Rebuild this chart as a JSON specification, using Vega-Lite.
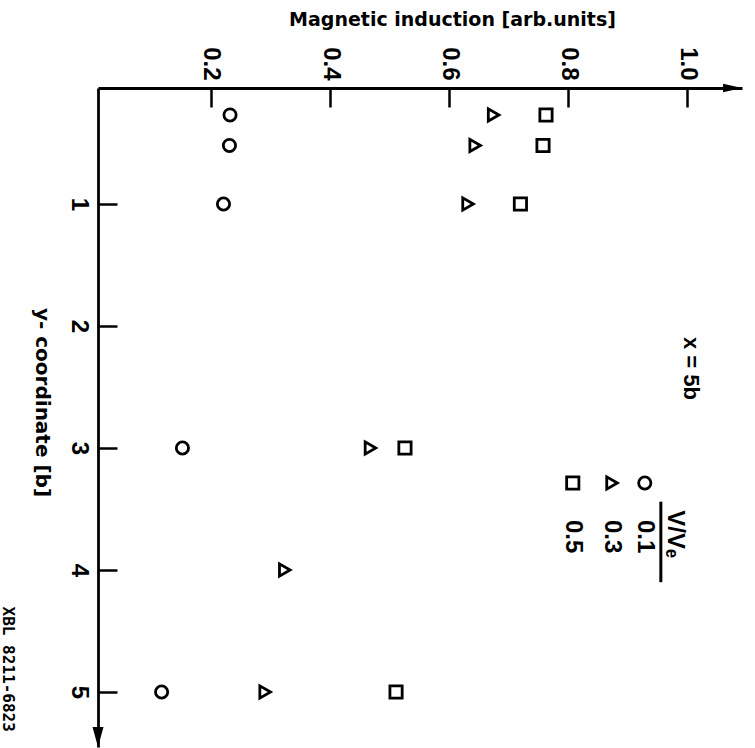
{
  "$schema": "https://vega.github.io/schema/vega-lite/v6.json",
  "width": 644,
  "height": 659,
  "autosize": {"type": "none"},
  "padding": {"left": 98, "top": 88, "right": 13, "bottom": 1},
  "background": "white",
  "config": {"view": {"stroke": null}},
  "layer": [
    {
      "data": {"values": [
        {"ycoord": 0.27, "induction": 0.232, "v": "0.1"},
        {"ycoord": 0.27, "induction": 0.675, "v": "0.3"},
        {"ycoord": 0.27, "induction": 0.763, "v": "0.5"},
        {"ycoord": 0.52, "induction": 0.231, "v": "0.1"},
        {"ycoord": 0.52, "induction": 0.644, "v": "0.3"},
        {"ycoord": 0.52, "induction": 0.758, "v": "0.5"},
        {"ycoord": 1, "induction": 0.221, "v": "0.1"},
        {"ycoord": 1, "induction": 0.632, "v": "0.3"},
        {"ycoord": 1, "induction": 0.72, "v": "0.5"},
        {"ycoord": 3, "induction": 0.152, "v": "0.1"},
        {"ycoord": 3, "induction": 0.468, "v": "0.3"},
        {"ycoord": 3, "induction": 0.526, "v": "0.5"},
        {"ycoord": 4, "induction": 0.324, "v": "0.3"},
        {"ycoord": 5, "induction": 0.117, "v": "0.1"},
        {"ycoord": 5, "induction": 0.291, "v": "0.3"},
        {"ycoord": 5, "induction": 0.511, "v": "0.5"}
      ]},
      "mark": {"type": "point", "filled": false, "stroke": "black", "strokeWidth": 2.8, "size": 150, "opacity": 1},
      "encoding": {
        "x": {
          "field": "induction", "type": "quantitative",
          "scale": {"domain": [0.0101, 1.0924], "nice": false, "zero": false},
          "axis": {
            "orient": "top", "values": [0.2, 0.4, 0.6, 0.8, 1.0], "format": ".1f", "grid": false,
            "labelAngle": 90, "labelAlign": "right", "labelBaseline": "middle", "labelFlush": false, "labelOverlap": false,
            "labelFont": "Liberation Sans", "labelFontWeight": "bold", "labelFontSize": 24, "labelColor": "black", "labelPadding": 27,
            "tickSize": -19, "tickWidth": 2.5, "tickColor": "black",
            "domainWidth": 2.8, "domainColor": "black",
            "title": "Magnetic induction [arb.units]", "titleFont": "DejaVu Sans", "titleFontWeight": "bold", "titleFontSize": 19, "titleColor": "black",
            "titleX": 354, "titleY": -63, "titleAlign": "center", "titleBaseline": "alphabetic", "titleAngle": 0
          }
        },
        "y": {
          "field": "ycoord", "type": "quantitative",
          "scale": {"domain": [0.049, 5.451], "nice": false, "zero": false, "reverse": true},
          "axis": {
            "orient": "left", "values": [1, 2, 3, 4, 5], "format": "d", "grid": false,
            "labelAngle": 90, "labelAlign": "center", "labelBaseline": "top", "labelFlush": false, "labelOverlap": false,
            "labelFont": "Liberation Sans", "labelFontWeight": "bold", "labelFontSize": 24, "labelColor": "black", "labelPadding": 27,
            "tickSize": -19, "tickWidth": 2.5, "tickColor": "black",
            "domainWidth": 2.8, "domainColor": "black",
            "title": "y- coordinate [b]", "titleFont": "DejaVu Sans", "titleFontWeight": "bold", "titleFontSize": 20, "titleColor": "black",
            "titleX": -57, "titleY": 314, "titleAlign": "center", "titleBaseline": "middle", "titleAngle": 90
          }
        },
        "shape": {
          "field": "v", "type": "nominal",
          "scale": {"domain": ["0.1", "0.3", "0.5"], "range": ["circle", "triangle-right", "square"]},
          "legend": null
        }
      }
    },
    {
      "data": {"values": [{}]},
      "mark": {"type": "point", "filled": false, "stroke": "black", "strokeWidth": 2.8, "size": 150, "opacity": 1},
      "encoding": {"x": {"datum": 0.929}, "y": {"datum": 3.287}, "shape": {"datum": "0.1", "legend": null}}
    },
    {
      "data": {"values": [{}]},
      "mark": {"type": "point", "filled": false, "stroke": "black", "strokeWidth": 2.8, "size": 150, "opacity": 1},
      "encoding": {"x": {"datum": 0.874}, "y": {"datum": 3.287}, "shape": {"datum": "0.3", "legend": null}}
    },
    {
      "data": {"values": [{}]},
      "mark": {"type": "point", "filled": false, "stroke": "black", "strokeWidth": 2.8, "size": 150, "opacity": 1},
      "encoding": {"x": {"datum": 0.808}, "y": {"datum": 3.287}, "shape": {"datum": "0.5", "legend": null}}
    },
    {
      "data": {"values": [{}]},
      "mark": {"type": "text", "text": "0.1", "angle": 90, "align": "left", "baseline": "middle", "font": "Liberation Sans", "fontWeight": "bold", "fontSize": 24, "fill": "black"},
      "encoding": {"x": {"datum": 0.929}, "y": {"datum": 3.59}}
    },
    {
      "data": {"values": [{}]},
      "mark": {"type": "text", "text": "0.3", "angle": 90, "align": "left", "baseline": "middle", "font": "Liberation Sans", "fontWeight": "bold", "fontSize": 24, "fill": "black"},
      "encoding": {"x": {"datum": 0.874}, "y": {"datum": 3.59}}
    },
    {
      "data": {"values": [{}]},
      "mark": {"type": "text", "text": "0.5", "angle": 90, "align": "left", "baseline": "middle", "font": "Liberation Sans", "fontWeight": "bold", "fontSize": 24, "fill": "black"},
      "encoding": {"x": {"datum": 0.808}, "y": {"datum": 3.59}}
    },
    {
      "data": {"values": [{}]},
      "mark": {"type": "text", "text": "V/Vₑ", "angle": 90, "align": "left", "baseline": "middle", "font": "Liberation Sans", "fontWeight": "bold", "fontSize": 24, "fill": "black"},
      "encoding": {"x": {"datum": 0.98}, "y": {"datum": 3.51}}
    },
    {
      "data": {"values": [{}]},
      "mark": {"type": "rule", "stroke": "black", "strokeWidth": 3},
      "encoding": {"x": {"datum": 0.956}, "y": {"datum": 3.44}, "y2": {"datum": 4.1}}
    },
    {
      "data": {"values": [{}]},
      "mark": {"type": "text", "text": "x = 5b", "angle": 90, "align": "left", "baseline": "middle", "font": "Liberation Sans", "fontWeight": "bold", "fontSize": 22, "fill": "black"},
      "encoding": {"x": {"datum": 1.007}, "y": {"datum": 2.09}}
    },
    {
      "data": {"values": [{}]},
      "mark": {"type": "text", "text": "XBL 8211-6823", "angle": 90, "align": "left", "baseline": "middle", "font": "DejaVu Sans Mono", "fontWeight": "bold", "fontSize": 16, "fill": "black"},
      "encoding": {"x": {"datum": -0.141}, "y": {"datum": 4.3}}
    },
    {
      "data": {"values": [{}]},
      "mark": {"type": "point", "shape": "M-1,-0.45L1,0L-1,0.45Z", "filled": true, "fill": "black", "stroke": null, "size": 361, "opacity": 1},
      "encoding": {"x": {"datum": 1.0765}, "y": {"datum": 0.049}}
    },
    {
      "data": {"values": [{}]},
      "mark": {"type": "point", "shape": "M-0.55,-1L0,1L0.55,-1Z", "filled": true, "fill": "black", "stroke": null, "size": 400, "opacity": 1},
      "encoding": {"x": {"datum": 0.0101}, "y": {"datum": 5.37}}
    }
  ]
}
